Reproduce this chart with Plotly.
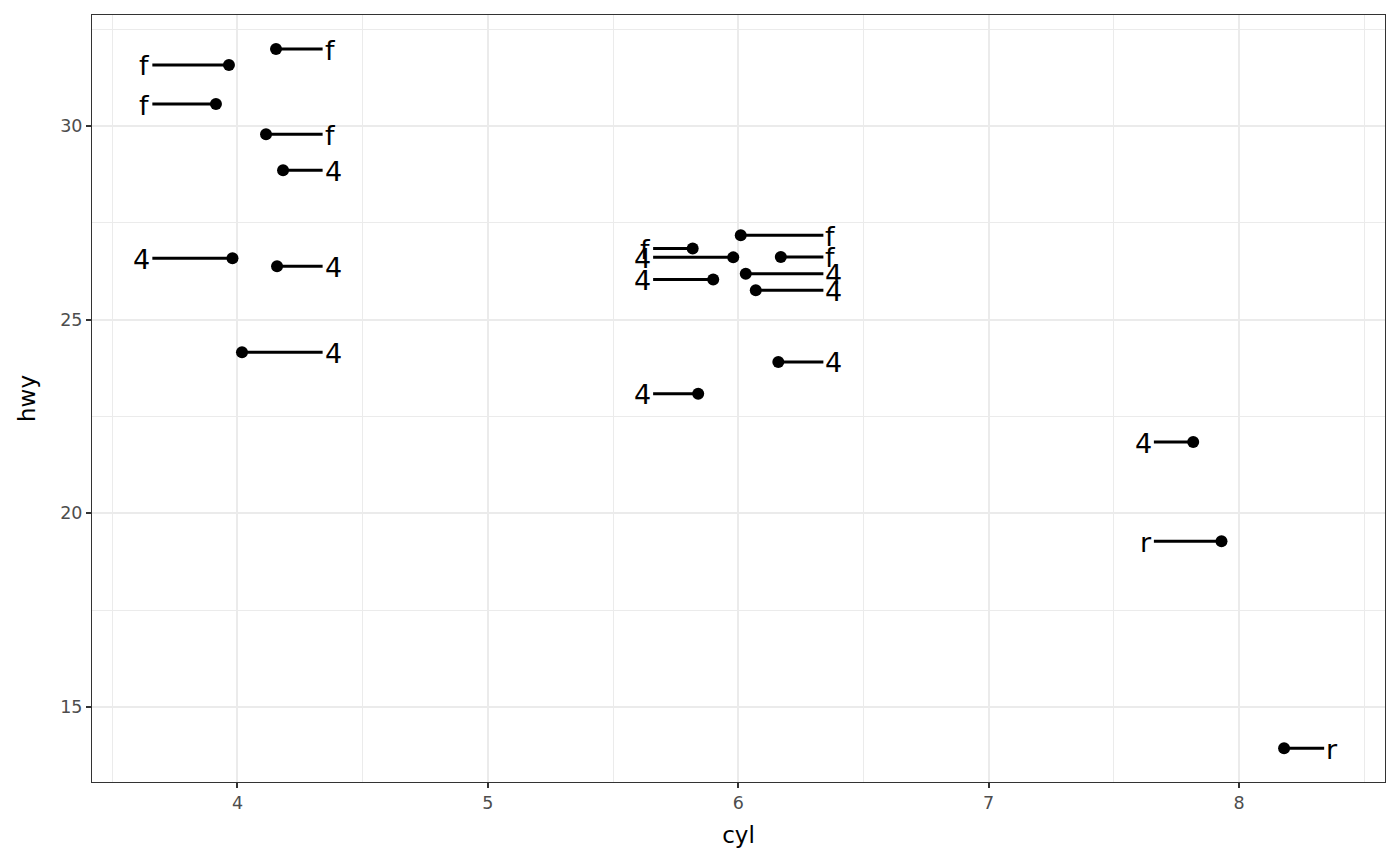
import plotly.graph_objects as go

# jittered points
cyl = [4.154, 3.966, 3.914, 4.114, 4.182, 3.980, 4.158, 4.018,
       6.010, 5.818, 5.980, 6.170, 6.030, 5.900, 6.070, 6.160, 5.840,
       7.817, 7.930, 8.180]
hwy = [31.99, 31.58, 30.57, 29.79, 28.86, 26.59, 26.38, 24.16,
       27.18, 26.84, 26.61, 26.62, 26.19, 26.04, 25.76, 23.91, 23.09,
       21.84, 19.28, 13.93]
drv = ["f", "f", "f", "f", "4", "4", "4", "4",
       "f", "f", "4", "f", "4", "4", "4", "4", "4",
       "4", "r", "r"]
side = ["right", "left", "left", "right", "right", "left", "right", "right",
        "right", "left", "left", "right", "right", "left", "right", "right", "left",
        "left", "left", "right"]
group_cyl = [4, 4, 4, 4, 4, 4, 4, 4,
             6, 6, 6, 6, 6, 6, 6, 6, 6,
             8, 8, 8]

offset = 0.34

fig = go.Figure()

seg_x, seg_y = [], []
for x, y, g, s in zip(cyl, hwy, group_cyl, side):
    end = g + offset if s == "right" else g - offset
    seg_x += [x, end, None]
    seg_y += [y, y, None]

fig.add_trace(go.Scatter(x=seg_x, y=seg_y, mode="lines",
                         line=dict(color="black", width=3),
                         hoverinfo="skip", showlegend=False))

fig.add_trace(go.Scatter(x=cyl, y=hwy, mode="markers",
                         marker=dict(color="black", size=12),
                         showlegend=False))

label_font = dict(size=27, color="black", family="DejaVu Sans")
for x, y, g, s, lab in zip(cyl, hwy, group_cyl, side, drv):
    if s == "right":
        fig.add_annotation(x=g + offset, y=y, text=lab, showarrow=False,
                           xanchor="left", yanchor="middle", yshift=-1,
                           font=label_font)
    else:
        fig.add_annotation(x=g - offset, y=y, text=lab, showarrow=False,
                           xanchor="right", yanchor="middle", yshift=-1,
                           font=label_font)

axis_common = dict(
    showgrid=True, gridcolor="#ebebeb", gridwidth=2,
    minor=dict(showgrid=True, gridcolor="#ebebeb", gridwidth=1),
    zeroline=False,
    showline=True, linecolor="#333333", linewidth=1, mirror=True,
    ticks="outside", ticklen=5, tickwidth=2, tickcolor="#333333",
    tickfont=dict(size=17.5, color="#4d4d4d", family="DejaVu Sans"),
)

fig.update_xaxes(range=[3.419, 8.583], tickvals=[4, 5, 6, 7, 8],
                 minor_tickvals=[3.5, 4.5, 5.5, 6.5, 7.5, 8.5],
                 title=dict(text="cyl", font=dict(size=23, color="black", family="DejaVu Sans"),
                            standoff=14),
                 **axis_common)
fig.update_yaxes(range=[13.06, 32.87], tickvals=[15, 20, 25, 30],
                 minor_tickvals=[17.5, 22.5, 27.5, 32.5],
                 title=dict(text="hwy", font=dict(size=23, color="black", family="DejaVu Sans"),
                            standoff=18),
                 **axis_common)

# page body has an 8px margin, so the figure is sized to fit inside it
fig.update_layout(
    width=1392, height=858,
    margin=dict(l=84, r=15, t=7, b=84),
    plot_bgcolor="white", paper_bgcolor="white",
)

fig.write_html("out.html")
